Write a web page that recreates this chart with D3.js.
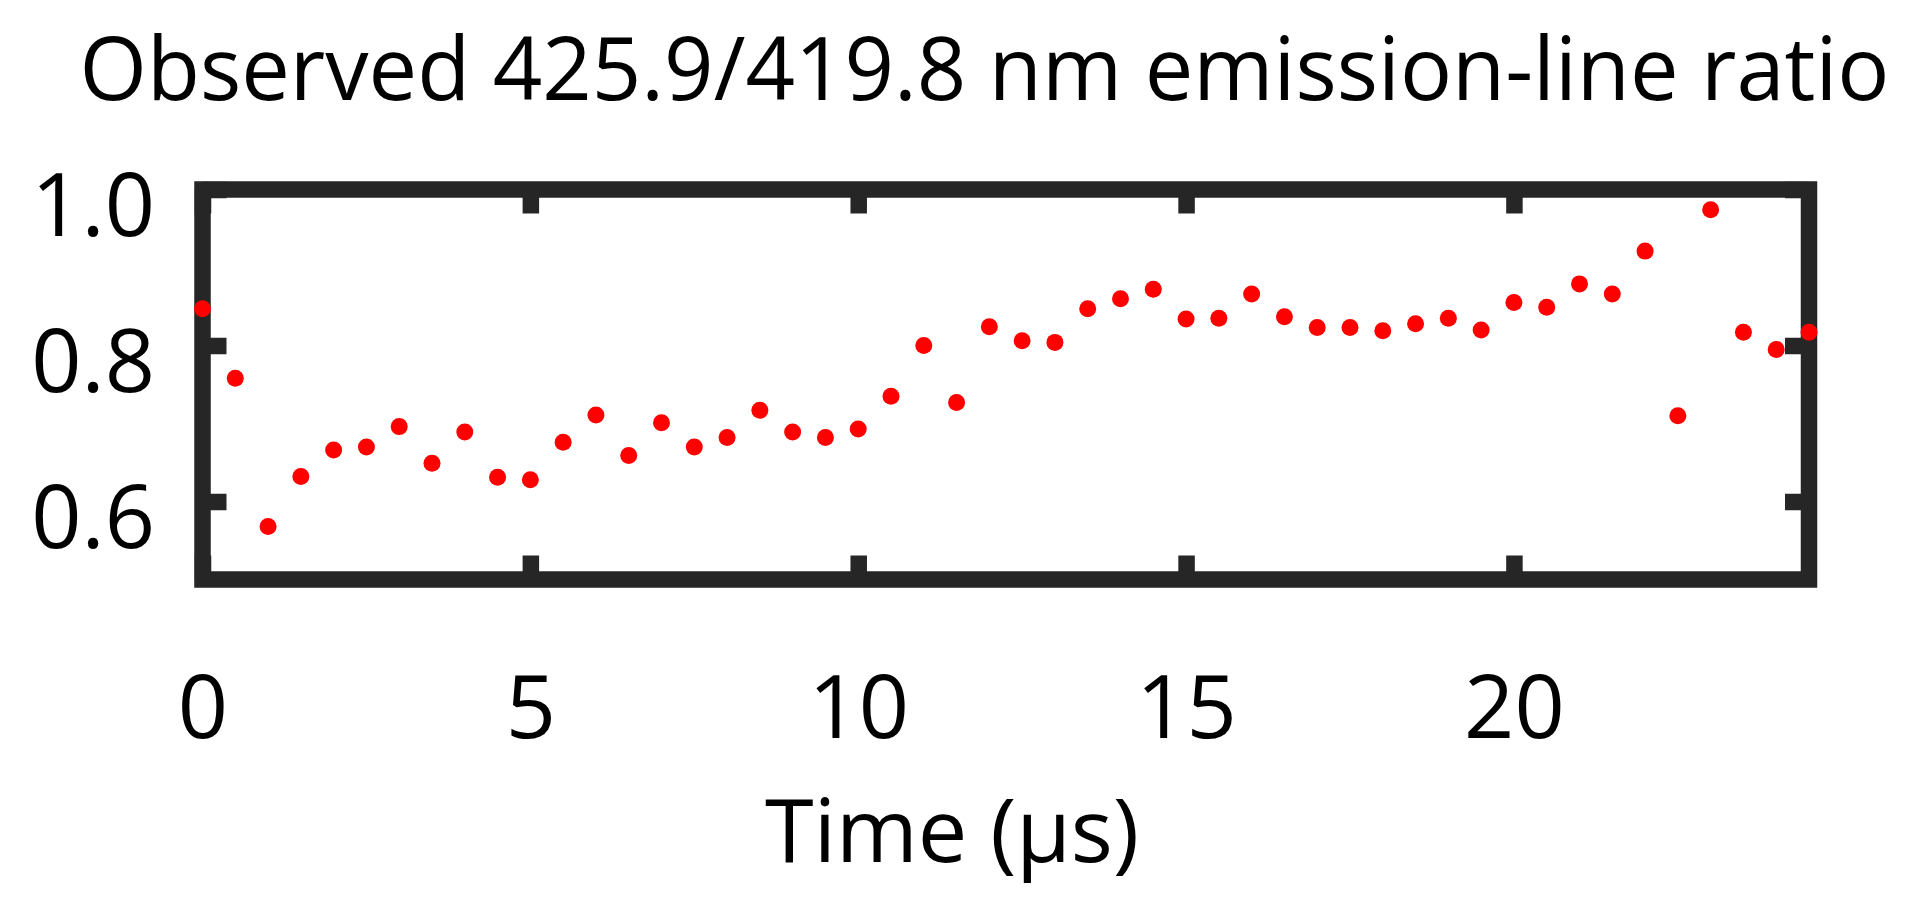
<!DOCTYPE html>
<html>
<head>
<meta charset="utf-8">
<script src="https://cdn.jsdelivr.net/npm/d3@7"></script>
<style>
  html, body { margin: 0; padding: 0; background: #fff; }
  svg text { font-family: "Open Sans", "Noto Sans", sans-serif; fill: #000; }
</style>
</head>
<body>
<div id="chart"></div>
<script>
// time in µs
const times = [0, 0.5, 1, 1.5, 2, 2.5, 3, 3.5, 4, 4.5,
    5, 5.5, 6, 6.5, 7, 7.5, 8, 8.5, 9, 9.5,
    10, 10.5, 11, 11.5, 12, 12.5, 13, 13.5, 14, 14.5,
    15, 15.5, 16, 16.5, 17, 17.5, 18, 18.5, 19, 19.5,
    20, 20.5, 21, 21.5, 22, 22.5, 23, 23.5, 24, 24.5];

// observed 425.9/419.8 nm ratio
const ratios = [0.847, 0.758, 0.568, 0.632, 0.666, 0.670, 0.696, 0.649, 0.689, 0.631,
    0.628, 0.676, 0.711, 0.659, 0.701, 0.670, 0.682, 0.717, 0.689, 0.682,
    0.693, 0.735, 0.800, 0.727, 0.824, 0.806, 0.804, 0.847, 0.860, 0.872,
    0.834, 0.835, 0.866, 0.837, 0.823, 0.823, 0.819, 0.828, 0.835, 0.820,
    0.855, 0.849, 0.879, 0.866, 0.921, 0.710, 0.974, 0.817, 0.795, 0.817];

const xTicks = [0, 5, 10, 15, 20];
const yTicks = [0.6, 0.8, 1.0];

const titleText = 'Observed 425.9/419.8 nm emission-line ratio';
const xLabel = 'Time (µs)';

const W = 1930, H = 911;
const margin = {top: 189.5, right: 121, bottom: 331.5, left: 202.5};
const width = W - margin.left - margin.right;
const height = H - margin.top - margin.bottom;
const axisColor = '#262626';
const lineW = 16.5;
const fontSize = 88;

const svg = d3.select('#chart')
    .append('svg')
    .attr('width', W)
    .attr('height', H);

svg.append('rect').attr('width', W).attr('height', H).attr('fill', '#fff');

const g = svg.append('g')
    .attr('transform', `translate(${margin.left},${margin.top})`);

const x = d3.scaleLinear().domain([0, 24.5]).range([0, width]);
const y = d3.scaleLinear().domain([0.5, 1.0]).range([height, 0]);

// box
g.append('rect')
    .attr('x', 0).attr('y', 0)
    .attr('width', width).attr('height', height)
    .attr('fill', 'none')
    .attr('stroke', axisColor)
    .attr('stroke-width', lineW);

function styleAxis(sel) {
    sel.select('.domain').remove();
    sel.selectAll('.tick line')
        .attr('stroke', axisColor)
        .attr('stroke-width', lineW);
    sel.selectAll('.tick text')
        .style('font-size', fontSize + 'px')
        .attr('fill', '#000');
}

// bottom axis with labels
g.append('g')
    .attr('transform', `translate(0,${height})`)
    .call(d3.axisBottom(x).tickValues(xTicks).tickSize(-24).tickFormat(d3.format('d')))
    .call(styleAxis)
    .selectAll('.tick text')
    .attr('y', 158.5)
    .attr('dy', 0);

// top axis, ticks only
g.append('g')
    .call(d3.axisTop(x).tickValues(xTicks).tickSize(-24).tickFormat(''))
    .call(styleAxis);

// left axis with labels
g.append('g')
    .call(d3.axisLeft(y).tickValues(yTicks).tickSize(-24).tickFormat(d3.format('.1f')))
    .call(styleAxis)
    .selectAll('.tick text')
    .attr('x', -47.5)
    .attr('y', 46)
    .attr('dy', 0);

// right axis, ticks only
g.append('g')
    .attr('transform', `translate(${width},0)`)
    .call(d3.axisRight(y).tickValues(yTicks).tickSize(-24).tickFormat(''))
    .call(styleAxis);

// points
g.selectAll('.pt')
    .data(times.map((t, i) => ({t: t, r: ratios[i]})))
    .enter()
    .append('circle')
    .attr('class', 'pt')
    .attr('cx', d => x(d.t))
    .attr('cy', d => y(d.r))
    .attr('r', 8.5)
    .attr('fill', '#ff0000');

// title
svg.append('text')
    .attr('x', 79.5)
    .attr('y', 100)
    .attr('textLength', 1810)
    .attr('lengthAdjust', 'spacingAndGlyphs')
    .style('font-size', fontSize + 'px')
    .text(titleText);

// x label
svg.append('text')
    .attr('x', 765)
    .attr('y', 861.7)
    .attr('textLength', 374)
    .attr('lengthAdjust', 'spacingAndGlyphs')
    .style('font-size', fontSize + 'px')
    .text(xLabel);
</script>
</body>
</html>
